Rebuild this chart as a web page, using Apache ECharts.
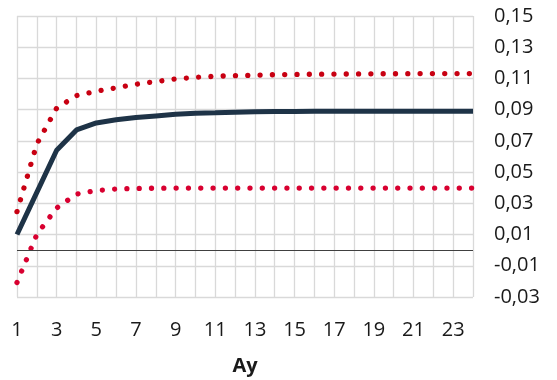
<!DOCTYPE html>
<html>
<head>
<meta charset="utf-8">
<script src="https://cdn.jsdelivr.net/npm/echarts@6/dist/echarts.min.js"></script>
<style>
	html, body { margin: 0; padding: 0; background: #fff; }
	#chart { width: 557px; height: 380px; }
</style>
</head>
<body>
<div id="chart"></div>
<script>
/* x ekseni: ay */
var months = [];
for (var i = 1; i <= 24; i++) months.push(String(i));

/* tepki ve güven bantları */
var response = [0.010, 0.037, 0.064, 0.077, 0.0815, 0.0835, 0.085, 0.086, 0.087, 0.0877, 0.088, 0.0884,
	0.0886, 0.0888, 0.0889, 0.089, 0.089, 0.089, 0.089, 0.089, 0.089, 0.089, 0.089, 0.089];
var upperBand = [0.0247, 0.068, 0.091, 0.099, 0.1018, 0.104, 0.1063, 0.108, 0.1097, 0.1107, 0.1114, 0.1118,
	0.1121, 0.1124, 0.1126, 0.1127, 0.1128, 0.1129, 0.113, 0.113, 0.1131, 0.1131, 0.1131, 0.1131];
var lowerBand = [-0.0207, 0.0101, 0.027, 0.0359, 0.0382, 0.0392, 0.0395, 0.0397, 0.0398, 0.0398, 0.0398, 0.0398,
	0.0398, 0.0398, 0.0398, 0.0398, 0.0398, 0.0398, 0.0398, 0.0398, 0.0398, 0.0398, 0.0398, 0.0398];

var yMin = -0.03, yMax = 0.15, yStep = 0.02;

var chart = echarts.init(document.getElementById("chart"));

function dotted(color) {
	return {
		color : color,
		width : 5.3,
		type : [0.01, 12.3],
		cap : 'round'
	};
}

chart.setOption({
	animation : false,
	backgroundColor : '#fff',
	textStyle : {
		fontFamily : 'Open Sans'
	},
	grid : {
		left : 17,
		right : 84,
		top : 16,
		bottom : 83,
		containLabel : false,
		outerBoundsMode : 'none'
	},
	xAxis : {
		type : 'category',
		data : months,
		boundaryGap : false,
		name : 'Ay',
		nameLocation : 'middle',
		nameGap : 59,
		nameTextStyle : {
			fontSize : 20,
			fontWeight : 'bold',
			color : '#1a1a1a'
		},
		axisLine : { show : false },
		axisTick : { show : false },
		axisLabel : {
			interval : function(idx) { return idx % 2 === 0; },
			hideOverlap : false,
			fontSize : 20,
			color : '#1a1a1a',
			margin : 23
		},
		splitLine : {
			show : true,
			interval : 0,
			lineStyle : { color : '#d9d9d9', width : 1.3 }
		}
	},
	yAxis : {
		type : 'value',
		position : 'right',
		min : yMin,
		max : yMax,
		interval : yStep,
		axisLine : { show : false },
		axisTick : { show : false },
		axisLabel : {
			fontSize : 20,
			color : '#1a1a1a',
			margin : 21,
			formatter : function(v) {
				return v.toFixed(2).replace('.', ',');
			}
		},
		splitLine : {
			lineStyle : { color : '#d9d9d9', width : 1.3 }
		}
	},
	series : [ {
		name : 'alt',
		type : 'line',
		data : lowerBand,
		showSymbol : false,
		lineStyle : dotted('#d80030'),
		markLine : {
			silent : true,
			symbol : 'none',
			label : { show : false },
			lineStyle : { color : '#404040', width : 1, type : 'solid' },
			data : [ { yAxis : 0 } ]
		}
	}, {
		name : 'üst',
		type : 'line',
		data : upperBand,
		showSymbol : false,
		lineStyle : dotted('#c80012')
	}, {
		name : 'tepki',
		type : 'line',
		data : response,
		showSymbol : false,
		lineStyle : {
			color : '#1e3347',
			width : 5
		}
	} ]
});
</script>
</body>
</html>
